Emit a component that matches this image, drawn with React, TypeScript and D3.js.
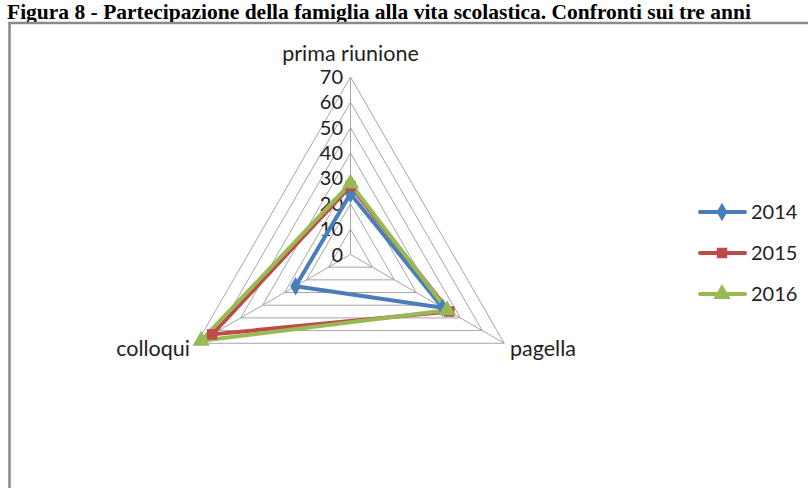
import React from "react";
import * as d3 from "d3";

const categories = ["prima riunione", "pagella", "colloqui"];
const seriesNames = ["2014", "2015", "2016"];
const values2014 = [24, 42, 25];
const values2015 = [27, 45, 63];
const values2016 = [28, 44, 68];
const tickValues = [0, 10, 20, 30, 40, 50, 60, 70];
const titleText =
  "Figura 8 - Partecipazione della famiglia alla vita scolastica. Confronti sui tre anni";

const colors = ["#4A7EBB", "#BE4B48", "#98B954"];
const symbols = [d3.symbolDiamond, d3.symbolSquare, d3.symbolTriangle];
const symbolSizes = [100, 110, 130];

export default function App() {
  const W = 808;
  const H = 488;
  const cx = 350.5;
  const cy = 254.5;
  const R = 177.5;
  const r = d3.scaleLinear().domain([0, 70]).range([0, R]);
  const n = categories.length;
  const ang = (i: number) => (i * 2 * Math.PI) / n; // 0 = up, clockwise
  const pt = (i: number, v: number): [number, number] => [
    cx + r(v) * Math.sin(ang(i)),
    cy - r(v) * Math.cos(ang(i)),
  ];

  const ringLine = d3
    .lineRadial<number>()
    .angle((_d, i) => ang(i))
    .radius((d) => r(d))
    .curve(d3.curveLinearClosed);

  const data = [values2014, values2015, values2016];
  const font = "Lato, 'Open Sans', sans-serif";
  const legendY = [212, 253, 294];

  return (
    <svg
      width={W}
      height={H}
      style={{ position: "absolute", left: 0, top: 0, display: "block", background: "#fff" }}
    >
      <rect x={0} y={0} width={W} height={H} fill="#fff" />
      <text
        x={7}
        y={19}
        fontFamily="'Liberation Serif', 'Times New Roman', serif"
        fontWeight="bold"
        fontSize={21.5}
        fill="#000"
      >
        {titleText}
      </text>
      <rect x={9.5} y={23} width={W + 20} height={H + 20} fill="none" stroke="#8a8a8a" strokeWidth={2.5} />

      {/* grid rings */}
      <g transform={`translate(${cx},${cy})`}>
        {tickValues.slice(1).map((t) => (
          <path key={t} d={ringLine(new Array(n).fill(t)) || ""} fill="none" stroke="#a6a6a6" strokeWidth={1} />
        ))}
      </g>
      {categories.map((c, i) => {
        const [x, y] = pt(i, 70);
        return <line key={c} x1={cx} y1={cy} x2={x} y2={y} stroke="#a6a6a6" strokeWidth={1} />;
      })}

      {/* tick labels */}
      {tickValues.map((t) => (
        <text
          key={t}
          x={343}
          y={cy - r(t)}
          dy="0.35em"
          textAnchor="end"
          fontFamily={font}
          fontSize={20}
          fill="#222"
        >
          {t}
        </text>
      ))}

      {/* series */}
      <g transform={`translate(${cx},${cy})`}>
        {data.map((vals, s) => (
          <path
            key={s}
            d={ringLine(vals) || ""}
            fill="none"
            stroke={colors[s]}
            strokeWidth={4}
            strokeLinejoin="round"
          />
        ))}
      </g>
      {data.map((vals, s) =>
        vals.map((v, i) => {
          const [x, y] = pt(i, v);
          const sym = d3.symbol().type(symbols[s]).size(symbolSizes[s])();
          return <path key={`${s}-${i}`} d={sym || ""} transform={`translate(${x},${y})`} fill={colors[s]} />;
        })
      )}

      {/* category labels */}
      <text x={cx} y={53} dy="0.35em" textAnchor="middle" fontFamily={font} fontSize={21.5} fill="#222">
        {categories[0]}
      </text>
      <text x={510} y={348} dy="0.35em" textAnchor="start" fontFamily={font} fontSize={21.5} fill="#222">
        {categories[1]}
      </text>
      <text x={190} y={348} dy="0.35em" textAnchor="end" fontFamily={font} fontSize={21.5} fill="#222">
        {categories[2]}
      </text>

      {/* legend */}
      {seriesNames.map((name, s) => {
        const y = legendY[s];
        const sym = d3.symbol().type(symbols[s]).size(symbolSizes[s])();
        return (
          <g key={name}>
            <line x1={700} x2={745} y1={y} y2={y} stroke={colors[s]} strokeWidth={4} strokeLinecap="round" />
            <path d={sym || ""} transform={`translate(722,${y})`} fill={colors[s]} />
            <text x={751} y={y} dy="0.35em" fontFamily={font} fontSize={20} fill="#222">
              {name}
            </text>
          </g>
        );
      })}
    </svg>
  );
}
